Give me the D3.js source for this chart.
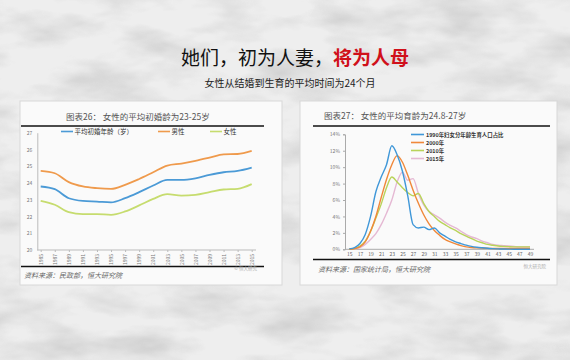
<!DOCTYPE html>
<html><head><meta charset="utf-8">
<script src="https://cdn.jsdelivr.net/npm/d3@7"></script>
<style>html,body{margin:0;padding:0;background:#e4e4e4;}svg{display:block;}</style>
</head><body>
<script>
// ---------- DATA ----------
const leftYears = ["1985","1987","1989","1991","1993","1995","1997","1999","2001","2003","2005","2007","2009","2011","2013","2015"];
const avgAge    = [23.79,23.63,23.09,22.93,22.89,22.84,23.09,23.45,23.85,24.18,24.18,24.28,24.48,24.64,24.72,24.92];
const maleAge   = [24.72,24.58,24.05,23.79,23.69,23.65,23.89,24.24,24.64,25.04,25.16,25.32,25.51,25.71,25.73,25.91];
const femaleAge = [22.93,22.70,22.26,22.14,22.14,22.10,22.30,22.66,23.05,23.33,23.25,23.29,23.45,23.61,23.65,23.93];
const leftYTicks = [20,21,22,23,24,25,26,27];
const leftLegend = ["平均初婚年龄（岁）","男性","女性"];

const ages = d3.range(15,50);
const ageLabels = [15,17,19,21,23,25,27,29,31,33,35,37,39,41,43,45,47,49];
const s1990 = [0.05,0.2,0.7,1.8,4.0,7.0,8.8,10.3,12.6,11.5,9.5,6.5,3.0,2.6,2.7,2.4,2.6,2.0,1.6,1.2,0.9,0.7,0.5,0.35,0.25,0.18,0.12,0.08,0.05,0.03,0.02,0.01,0.01,0.01,0.01];
const s2000 = [0.0,0.1,0.3,0.9,2.2,4.0,6.3,8.5,10.3,11.4,10.6,9.0,7.2,5.6,4.2,3.1,2.3,1.7,1.2,0.9,0.65,0.45,0.3,0.22,0.17,0.14,0.12,0.1,0.1,0.1,0.1,0.1,0.1,0.1,0.1];
const s2010 = [0.0,0.1,0.4,1.0,2.2,3.8,5.5,7.5,8.8,8.2,7.5,6.9,6.5,6.8,5.6,4.6,4.0,3.4,3.0,2.6,2.3,1.9,1.6,1.3,1.0,0.8,0.6,0.5,0.4,0.35,0.32,0.3,0.3,0.3,0.3];
const s2015 = [0.0,0.05,0.2,0.6,1.2,1.9,3.0,4.4,6.0,8.2,9.4,8.4,8.6,6.8,5.4,4.6,4.2,3.8,3.3,2.9,2.6,2.2,1.8,1.5,1.3,1.0,0.8,0.6,0.5,0.45,0.4,0.35,0.3,0.3,0.3];
const rightYTicks = [0,2,4,6,8,10,12,14];
const rightLegend = ["1990年妇女分年龄生育人口占比","2000年","2010年","2015年"];

// ---------- SVG ----------
const W=570,H=360;
const svg=d3.select("body").append("svg").attr("width",W).attr("height",H);
const defs=svg.append("defs");
const f=defs.append("filter").attr("id","marble").attr("x",0).attr("y",0).attr("width","100%").attr("height","100%");
f.append("feTurbulence").attr("type","fractalNoise").attr("baseFrequency","0.012 0.03").attr("numOctaves",4).attr("seed",7).attr("result","n");
f.append("feColorMatrix").attr("type","matrix").attr("in","n")
 .attr("values","0 0 0 0 0.5  0 0 0 0 0.5  0 0 0 0 0.5  -1.8 0 0 0 1.05").attr("result","c");
f.append("feComposite").attr("in","c").attr("in2","SourceGraphic").attr("operator","in");

svg.append("rect").attr("width",W).attr("height",H).attr("fill","#eeeeee");
svg.append("rect").attr("width",W).attr("height",H).attr("fill","#fff").attr("filter","url(#marble)").attr("opacity",0.75);

const font="'Noto Sans CJK SC','Noto Sans',sans-serif";

// Title
const t=svg.append("text").attr("x",295).attr("y",65).attr("text-anchor","middle")
  .attr("font-family",font).attr("font-size",19);
t.append("tspan").attr("fill","#111").text("她们，初为人妻，");
t.append("tspan").attr("fill","#d0101a").attr("font-weight","bold").text("将为人母");
svg.append("text").attr("x",290).attr("y",87).attr("text-anchor","middle")
  .attr("font-family",font).attr("font-size",10).attr("fill","#222").text("女性从结婚到生育的平均时间为24个月");

// Panels
svg.append("rect").attr("x",20).attr("y",101).attr("width",262).attr("height",184).attr("fill","#fafafa").attr("stroke","#d8d8d8");
svg.append("rect").attr("x",300).attr("y",101).attr("width",257).attr("height",184).attr("fill","#fafafa").attr("stroke","#d8d8d8");

// ---------- LEFT CHART ----------
const L=svg.append("g");
L.append("text").attr("x",66).attr("y",120).attr("font-family",font).attr("font-size",8.5).attr("fill","#555")
  .text("图表26：  女性的平均初婚龄为23-25岁");
L.append("line").attr("x1",21).attr("x2",264).attr("y1",126).attr("y2",126).attr("stroke","#111").attr("stroke-width",1.6);
L.append("line").attr("x1",21).attr("x2",264).attr("y1",266.5).attr("y2",266.5).attr("stroke","#111").attr("stroke-width",1.6);
L.append("text").attr("x",24).attr("y",278).attr("font-family",font).attr("font-size",7).attr("font-style","italic").attr("fill","#666")
  .text("资料来源：民政部，恒大研究院");
L.append("text").attr("x",257).attr("y",270).attr("text-anchor","end").attr("font-family",font).attr("font-size",4.5).attr("fill","#aaa").text("© 恒大研究");

const lx=d3.scalePoint().domain(leftYears).range([40.7,251.7]);
const ly=d3.scaleLinear().domain([20,27]).range([250,132.7]);
const lyAxis=d3.axisLeft(ly).tickValues(leftYTicks).tickSize(0).tickPadding(5).tickFormat(d3.format("d"));
const gly=L.append("g").attr("transform","translate(37.3,0)").call(lyAxis);
gly.select(".domain").attr("stroke","#bbb");
gly.selectAll("text").attr("font-size",5).attr("fill","#777").attr("font-family",font);
const lxAxis=d3.axisBottom(lx).tickSize(2).tickPadding(3);
const glx=L.append("g").attr("transform","translate(0,250)").call(lxAxis);
glx.select(".domain").attr("stroke","#bbb").attr("d","M37.3,0H256");
glx.selectAll("line").attr("stroke","#bbb");
glx.selectAll(".tick text").attr("font-size",5).attr("fill","#777").attr("font-family",font)
  .attr("transform","rotate(-90)").attr("text-anchor","end").attr("x",-4).attr("y",0).attr("dy","0.35em");

const lcol=["#4b9ad6","#ef9a4c","#c6dc6e"];
const lline=d3.line().x((d,i)=>lx(leftYears[i])).y(d=>ly(d)).curve(d3.curveMonotoneX);
[avgAge,maleAge,femaleAge].forEach((s,k)=>{
  L.append("path").datum(s).attr("d",lline).attr("fill","none").attr("stroke",lcol[k]).attr("stroke-width",1.8);
});
// legend
const lleg=[[61,74.5],[158,171.5],[210,223.5]];
leftLegend.forEach((txt,k)=>{
  L.append("line").attr("x1",lleg[k][0]).attr("x2",lleg[k][0]+12).attr("y1",131.5).attr("y2",131.5).attr("stroke",lcol[k]).attr("stroke-width",1.6);
  L.append("text").attr("x",lleg[k][1]).attr("y",134).attr("font-family",font).attr("font-size",6.5).attr("fill","#333").text(txt);
});

// ---------- RIGHT CHART ----------
const R=svg.append("g");
R.append("text").attr("x",324).attr("y",119).attr("font-family",font).attr("font-size",8.5).attr("fill","#555")
  .text("图表27：  女性的平均育龄为24.8-27岁");
R.append("line").attr("x1",313).attr("x2",550).attr("y1",126).attr("y2",126).attr("stroke","#111").attr("stroke-width",1.6);
R.append("line").attr("x1",313).attr("x2",550).attr("y1",259.5).attr("y2",259.5).attr("stroke","#111").attr("stroke-width",1.6);
R.append("text").attr("x",318).attr("y",272).attr("font-family",font).attr("font-size",7).attr("font-style","italic").attr("fill","#666")
  .text("资料来源：国家统计局，恒大研究院");
R.append("text").attr("x",546).attr("y",268).attr("text-anchor","end").attr("font-family",font).attr("font-size",4.5).attr("fill","#aaa").text("恒大研究院");

const rx=d3.scaleLinear().domain([15,49]).range([349.3,530]);
const ry=d3.scaleLinear().domain([0,14]).range([249.3,134.3]);
const ryAxis=d3.axisLeft(ry).tickValues(rightYTicks).tickSize(2).tickPadding(3).tickFormat(d=>d+"%");
const gry=R.append("g").attr("transform","translate(345,0)").call(ryAxis);
gry.select(".domain").attr("stroke","#aaa");
gry.selectAll("line").attr("stroke","#aaa");
gry.selectAll("text").attr("font-size",5).attr("fill","#777").attr("font-family",font);
const rxAxis=d3.axisBottom(rx).tickValues(ageLabels).tickSize(0).tickPadding(3).tickFormat(d3.format("d"));
const grx=R.append("g").attr("transform","translate(0,249.3)").call(rxAxis);
grx.select(".domain").attr("stroke","#aaa").attr("d","M345,0H534");
grx.selectAll("text").attr("font-size",5).attr("fill","#666").attr("font-family",font);

const rcol=["#3f97d8","#f0883a","#b9d35a","#e5b8d3"];
const rline=d3.line().x((d,i)=>rx(ages[i])).y(d=>ry(d)).curve(d3.curveMonotoneX);
[s2015,s2010,s2000,s1990].forEach((s,j)=>{
  const k=3-j;
  R.append("path").datum(s).attr("d",rline).attr("fill","none").attr("stroke",rcol[k]).attr("stroke-width",1.4);
});
const rowY=[134.5,142.5,150.5,158.5];
rightLegend.forEach((txt,k)=>{
  R.append("line").attr("x1",411).attr("x2",424).attr("y1",rowY[k]).attr("y2",rowY[k]).attr("stroke",rcol[k]).attr("stroke-width",1.6);
  R.append("text").attr("x",426).attr("y",rowY[k]+2).attr("font-family",font).attr("font-size",5.4).attr("font-weight","bold").attr("fill","#333").text(txt);
});
</script>
</body></html>
